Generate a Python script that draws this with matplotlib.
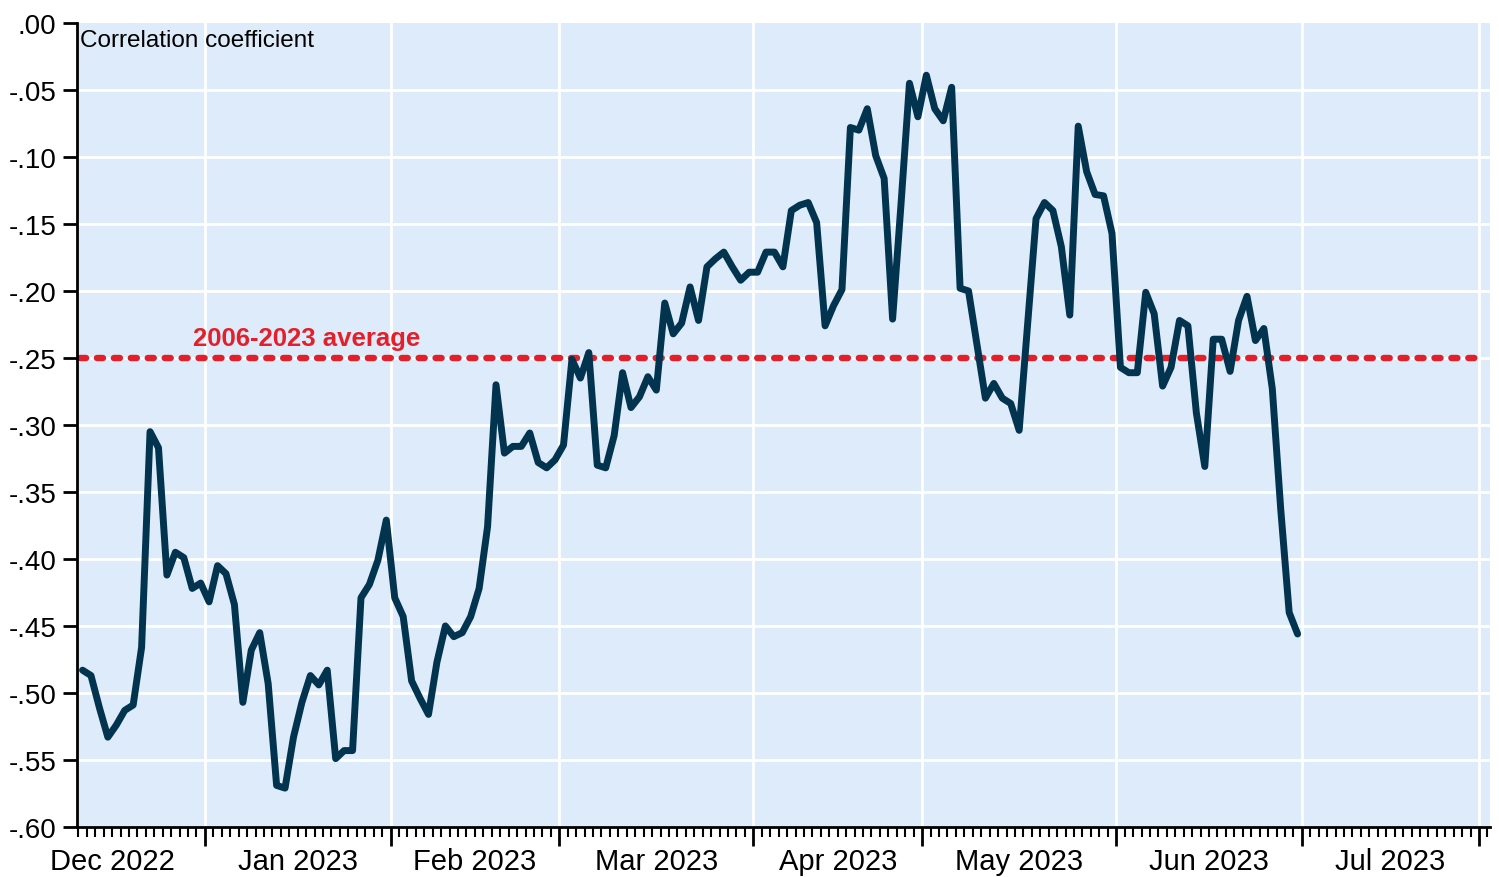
import numpy as np
import matplotlib
matplotlib.use('Agg')
import matplotlib.pyplot as plt
from matplotlib.ticker import FixedLocator, FuncFormatter

plt.rcParams['font.family'] = ['Liberation Sans', 'DejaVu Sans']

# daily (business day) correlation, 12 Dec 2022 - 30 Jun 2023
start_date = '2022-12-12'
end_date = '2023-06-30'
corr = [
    -0.483, -0.487, -0.511, -0.533, -0.524, -0.513, -0.509, -0.466, -0.305, -0.317,
    -0.412, -0.395, -0.399, -0.422, -0.418, -0.432, -0.405, -0.411, -0.434, -0.507,
    -0.468, -0.455, -0.493, -0.569, -0.571, -0.533, -0.507, -0.487, -0.494, -0.483,
    -0.549, -0.543, -0.543, -0.429, -0.419, -0.401, -0.371, -0.429, -0.443, -0.491,
    -0.504, -0.516, -0.477, -0.450, -0.458, -0.455, -0.443, -0.422, -0.376, -0.270,
    -0.321, -0.316, -0.316, -0.306, -0.328, -0.332, -0.326, -0.315, -0.251, -0.265,
    -0.246, -0.330, -0.332, -0.308, -0.261, -0.287, -0.279, -0.264, -0.274, -0.209,
    -0.232, -0.224, -0.197, -0.222, -0.182, -0.176, -0.171, -0.182, -0.192, -0.186,
    -0.186, -0.171, -0.171, -0.182, -0.140, -0.136, -0.134, -0.149, -0.226, -0.211,
    -0.199, -0.078, -0.080, -0.064, -0.099, -0.116, -0.221, -0.135, -0.045, -0.070,
    -0.039, -0.064, -0.073, -0.048, -0.198, -0.200, -0.240, -0.280, -0.269, -0.280,
    -0.284, -0.304, -0.225, -0.146, -0.134, -0.140, -0.167, -0.218, -0.077, -0.111,
    -0.128, -0.129, -0.157, -0.257, -0.261, -0.261, -0.201, -0.217, -0.271, -0.257,
    -0.222, -0.226, -0.291, -0.331, -0.236, -0.236, -0.260, -0.222, -0.204, -0.237,
    -0.228, -0.273, -0.363, -0.440, -0.456,
]
average = -0.25
avg_label = '2006-2023 average'
month_starts = ['2022-12-01', '2023-01-01', '2023-02-01', '2023-03-01', '2023-04-01',
                '2023-05-01', '2023-06-01', '2023-07-01', '2023-08-01']
month_labels = ['Dec 2022', 'Jan 2023', 'Feb 2023', 'Mar 2023', 'Apr 2023',
                'May 2023', 'Jun 2023', 'Jul 2023']
yticks = [0.0, -0.05, -0.10, -0.15, -0.20, -0.25, -0.30, -0.35, -0.40, -0.45,
          -0.50, -0.55, -0.60]

# business-day axis, like the original
start = np.datetime64(start_date)
days = np.arange(start, np.datetime64(end_date) + 1)
days = days[np.is_busday(days)]
pos = np.busday_count(start, days)
bounds = np.busday_count(start, np.array(month_starts, dtype='datetime64[D]')) - 0.5
mids = (bounds[:-1] + bounds[1:]) / 2

line_col = '#02344F'
red = '#E3202A'
bg = '#DEEBFB'

fig = plt.figure(figsize=(14.99, 8.78), dpi=100)
ax = fig.add_axes([0.0514, 0.057, 0.9426, 0.9157])
ax.set_facecolor(bg)

xmin, xmax = -0.65, bounds[-1] + 1.3
ax.set_xlim(xmin, xmax)
ax.set_ylim(-0.60, 0.0)

# grid
for b in bounds[1:]:
    ax.axvline(b, color='white', lw=2, zorder=1)
for v in yticks[1:]:
    ax.axhline(v, color='white', lw=2, zorder=1)

# average line + label
ax.hlines(average, xmin + 0.3, bounds[-1], colors=red, lw=4.6,
          linestyles=(0, (0.95, 1.7)), capstyle='round', zorder=2)
ax.text(26.5, average + 0.006, avg_label, color=red, fontsize=18.5,
        fontweight='bold', ha='center', va='bottom', zorder=3)

ax.plot(pos, corr, color=line_col, lw=5.0, solid_joinstyle='round',
        solid_capstyle='round', zorder=4)

ax.text(0.002, 0.993, 'Correlation coefficient', transform=ax.transAxes,
        fontsize=17.5, ha='left', va='top')

# axes styling
for s in ['top', 'right']:
    ax.spines[s].set_visible(False)
for s in ['left', 'bottom']:
    ax.spines[s].set_linewidth(2)
    ax.spines[s].set_color('black')

ax.yaxis.set_major_locator(FixedLocator(yticks))
ax.yaxis.set_major_formatter(FuncFormatter(
    lambda v, p: ('%.2f' % round(v, 2)).replace('0.', '.', 1).replace('-.00', '.00')))
ax.tick_params(axis='y', direction='out', length=10, width=2, pad=5, labelsize=20)

ax.xaxis.set_major_locator(FixedLocator(bounds))
ax.xaxis.set_minor_locator(FixedLocator(np.arange(-0.5, xmax, 1.0)))
ax.xaxis.set_major_formatter(FuncFormatter(lambda v, p: ''))
ax.tick_params(axis='x', which='major', direction='out', length=14, width=2)
ax.tick_params(axis='x', which='minor', direction='out', length=7, width=1.5)

# month names centred on the (full) month
for m, lab in zip(mids, month_labels):
    ax.text(m, -0.025, lab, transform=ax.get_xaxis_transform(), fontsize=21,
            ha='center', va='top', clip_on=False)

fig.savefig('out.png', dpi=100)
